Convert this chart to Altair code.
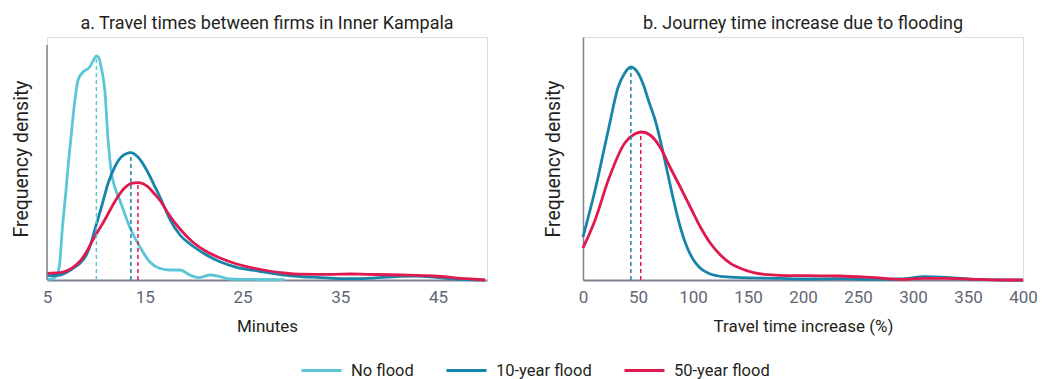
import altair as alt
import pandas as pd

FONT = "Roboto"
DARK = "#231f20"
GREY = "#5f6675"
AXIS = "#7d8290"

series_names = ["No flood", "10-year flood", "50-year flood"]
series_colors = ["#5cc6d8", "#1785aa", "#e0194f"]

# ---- panel a: travel times (minutes) ----
a_noflood_x = [5.0, 5.6, 6.0, 6.3, 6.6, 6.9, 7.2, 7.5, 7.77, 8.18, 8.69, 9.37, 9.88, 10.05,
               10.3, 10.6, 10.91, 11.25, 11.59, 11.93, 12.44, 13.46, 14.5, 15.5, 16.5, 17.5,
               18.6, 19.6, 20.5, 21.7, 22.7, 23.7, 25.0, 27.0, 29.33]
a_noflood_y = [0.5, 1.5, 4, 17, 55, 85, 118, 147, 173, 200, 208, 213, 222, 224,
               222, 210, 190, 140, 107, 93, 80, 53, 33, 18.3, 11.7, 10,
               10, 5, 2.3, 5, 3.3, 1, 0.6, 0.5, 0.4]

a_flood10_x = [5.0, 6.3, 7.66, 8.4, 9.03, 9.5, 9.88, 10.57, 11.25, 11.93, 12.6, 13.58, 14.3,
               15.3, 16.0, 16.6, 17.5, 18.6, 19.9, 21.3, 22.7, 24.4, 26.6, 29.2, 30.9, 32.6,
               36.0, 37.7, 41.1, 42.8, 44.5, 46.2, 47.9, 49.8]
a_flood10_y = [4.3, 5, 11.7, 17, 25, 37, 50, 73, 96.7, 113, 123, 127.3, 123,
               108, 94, 82, 62, 45, 34, 25, 18.3, 12.7, 9, 5, 3.5, 2.7,
               1.3, 1.7, 3.7, 4, 3, 1.3, 0.3, 0]

a_flood50_x = [5.0, 6.3, 7.66, 8.4, 9.03, 9.88, 10.9, 11.93, 12.9, 13.64, 14.3, 15.3, 16.0,
               16.6, 17.5, 18.6, 19.9, 21.3, 22.7, 24.4, 26.6, 29.2, 30.9, 34.3, 36.0, 37.7,
               41.1, 44.5, 47.9, 49.8]
a_flood50_y = [6.7, 7.3, 12.7, 19, 28, 43.3, 60, 78.3, 91.7, 96.7, 97.3, 93.3, 86,
               79, 65, 51, 38, 28.5, 22, 16, 11, 7, 5.8, 5.7, 6, 5.7,
               5, 4, 1.3, 0]

a_median_x = [10.05, 13.58, 14.3]
a_median_y = [224, 127.3, 97.3]

# ---- panel b: travel time increase (%) ----
b_flood10_x = [0, 11, 23, 32, 38, 43.5, 50, 55, 60, 65.6, 71.7, 76.3, 82.3, 88.4, 94.5,
               100.5, 106.7, 115.8, 128, 143, 178, 204, 234, 265, 289, 310, 331, 356, 386, 400]
b_flood10_y = [43, 90, 150, 193, 207, 213, 207, 195, 178, 160, 133, 110, 80, 53, 33,
               20, 11.7, 6, 3.3, 2.3, 1.7, 1, 1.3, 0.7, 1, 3.3, 2.7, 0.7, 0, 0]

b_flood50_x = [0, 11, 23, 38, 47, 53.5, 61, 70, 79, 88.4, 97.5, 106.7, 115.8, 124.9, 134,
               143, 155, 167.5, 178, 204, 234, 265, 289, 310, 331, 356, 386, 400]
b_flood50_y = [32, 60, 100, 137, 146, 148, 145, 133, 113, 93, 73, 53, 36.7, 25, 16.7,
               11.7, 7.3, 5.3, 4.7, 4.3, 4, 2.3, 0.7, 1.7, 1.7, 0.7, 0, 0]

b_median_x = [43.5, 52.5]
b_median_y = [213, 148]

a_ticks = [5, 15, 25, 35, 45]
b_ticks = [0, 50, 100, 150, 200, 250, 300, 350, 400]

Y_MAX = 243
A_AXIS_TOP = 235

color_scale = alt.Scale(domain=series_names, range=series_colors)
legend = alt.Legend(
    orient="none", direction="horizontal", legendX=253, legendY=312,
    title=None, symbolType="stroke", symbolSize=1600, symbolStrokeWidth=3,
    labelFont=FONT, labelFontSize=16.5, labelColor=DARK, columnPadding=26,
    labelOffset=8, padding=0,
)


def curve_df(name, xs, ys):
    return pd.DataFrame({"x": xs, "d": ys, "series": [name] * len(xs)})


def title(text):
    return alt.TitleParams(text=text, font=FONT, fontSize=18, fontWeight="normal",
                           color=DARK, anchor="middle", offset=-10, baseline="alphabetic")


def panel(curves, med_names, med_x, med_y, xdom, ticks, xtitle, ttl, y_domain_line, ytitle_pad):
    x_enc = alt.X("x:Q", scale=alt.Scale(domain=xdom, nice=False, zero=False),
                  axis=alt.Axis(values=ticks, title=xtitle, ticks=False, grid=False,
                                domainColor=AXIS, domainWidth=2, labelColor=GREY,
                                labelFont=FONT, labelFontSize=17, labelPadding=9,
                                labelFlush=False, titleFont=FONT, titleFontSize=17,
                                titleFontWeight="normal", titleColor=DARK, titlePadding=13))
    y_enc = alt.Y("d:Q", scale=alt.Scale(domain=[0, Y_MAX], nice=False),
                  axis=alt.Axis(labels=False, ticks=False, grid=False, domain=y_domain_line,
                                domainColor=AXIS, domainWidth=1.5, title="Frequency density",
                                titleFont=FONT, titleFontSize=19.5, titleFontWeight="normal",
                                titleColor=DARK, titlePadding=ytitle_pad))
    color_enc = alt.Color("series:N", scale=color_scale, legend=legend)
    layers = []
    for name, xs, ys in curves:
        layers.append(
            alt.Chart(curve_df(name, xs, ys)).mark_line(interpolate="monotone", strokeWidth=2.8)
            .encode(x=x_enc, y=y_enc, color=color_enc)
        )
    med = pd.DataFrame({"x": med_x, "d": med_y, "z": [0] * len(med_x), "series": med_names})
    layers.append(
        alt.Chart(med).mark_rule(strokeDash=[4, 3], strokeWidth=1.5)
        .encode(x="x:Q", y="z:Q", y2="d:Q", color=color_enc)
    )
    if not y_domain_line:
        ax = pd.DataFrame({"x": [xdom[0]], "z": [0], "top": [A_AXIS_TOP]})
        layers.append(
            alt.Chart(ax).mark_rule(color=AXIS, strokeWidth=1.5)
            .encode(x="x:Q", y="z:Q", y2="top:Q")
        )
    return alt.layer(*layers).properties(width=440, height=Y_MAX, title=title(ttl))


panel_a = panel(
    [("No flood", a_noflood_x, a_noflood_y),
     ("10-year flood", a_flood10_x, a_flood10_y),
     ("50-year flood", a_flood50_x, a_flood50_y)],
    series_names, a_median_x, a_median_y, [5, 50], a_ticks, "Minutes",
    "a. Travel times between firms in Inner Kampala", False, 16)

panel_b = panel(
    [("10-year flood", b_flood10_x, b_flood10_y),
     ("50-year flood", b_flood50_x, b_flood50_y)],
    ["10-year flood", "50-year flood"], b_median_x, b_median_y, [0, 400], b_ticks,
    "Travel time increase (%)", "b. Journey time increase due to flooding", True, 20)

chart = (
    alt.hconcat(panel_a, panel_b, spacing=50)
    .properties(padding={"left": 2, "top": 6, "right": 2, "bottom": 0})
    .configure_view(stroke=None)
    .configure(font=FONT)
)

chart.save("out.html", embed_options={"renderer": "svg", "actions": False})
